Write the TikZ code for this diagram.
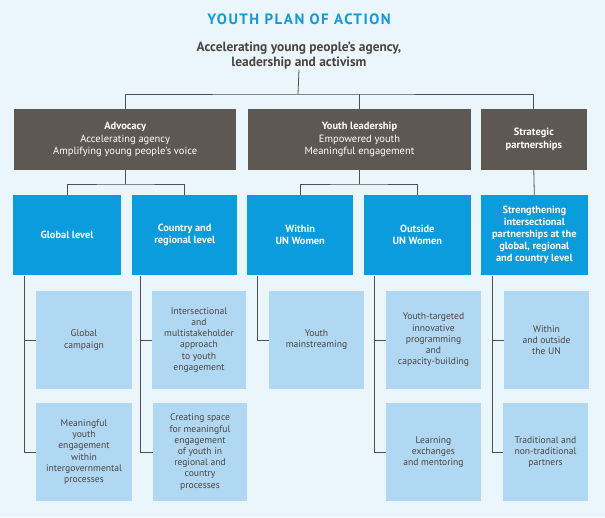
\documentclass[tikz,border=0pt]{standalone}
\usepackage{fontspec}
\setmainfont{PT Sans}
\newfontfamily\titlefont[LetterSpace=10]{PT Sans}
\definecolor{bgc}{HTML}{EBF5FC}
\definecolor{titlec}{HTML}{1798D6}
\definecolor{darkt}{HTML}{4A4440}
\definecolor{grayc}{HTML}{5E5852}
\definecolor{bluec}{HTML}{0A9CDD}
\definecolor{lightc}{HTML}{B1D8F2}
\definecolor{linec}{HTML}{4F4F4F}
\tikzset{
  gbox/.style={fill=grayc, text=white, align=center, inner sep=0pt, minimum height=61pt, font=\fontsize{10.5}{12.5}\selectfont},
  bbox/.style={fill=bluec, text=white, align=center, inner sep=0pt, minimum height=80.5pt, font=\fontsize{10.4}{12}\selectfont\bfseries},
  lbox/.style={fill=lightc, text=darkt, align=center, inner sep=0pt, minimum height=98pt, font=\fontsize{9.6}{11.2}\selectfont},
  conn/.style={draw=linec, line width=0.8pt}
}
\begin{document}
\begin{tikzpicture}[x=1pt,y=-1pt]
\fill[bgc] (0,0) rectangle (605,517);
\useasboundingbox (0,0) rectangle (605,517);
% titles
\node[text=titlec, font=\titlefont\fontsize{15}{18}\selectfont\bfseries] (title) at (299,19) {YOUTH PLAN OF ACTION};
\node[text=darkt, align=center, inner sep=0pt, font=\fontsize{13.4}{15.5}\selectfont\bfseries] (sub) at (299,55.5) {Accelerating young people’s agency,\\leadership and activism};
% level 1
\node[gbox, minimum width=222.5pt] (adv) at (125.2,139.5) {{\bfseries Advocacy}\\Accelerating agency\\Amplifying young people’s voice};
\node[gbox, minimum width=223pt] (yl) at (359.5,139.5) {{\bfseries Youth leadership}\\Empowered youth\\Meaningful engagement};
\node[gbox, minimum width=105.5pt, font=\fontsize{10.5}{12.5}\selectfont\bfseries] (str) at (533.8,139.5) {Strategic\\partnerships};
% level 2
\node[bbox, minimum width=108pt] (gl) at (67,235.2) {Global level};
\node[bbox, minimum width=105.5pt] (cr) at (184.7,235.2) {Country and\\regional level};
\node[bbox, minimum width=106.5pt] (wi) at (300.2,235.2) {Within\\UN Women};
\node[bbox, minimum width=106.7pt] (ou) at (417.3,235.2) {Outside\\UN Women};
\node[bbox, minimum width=106.6pt] (st) at (534.3,235.2) {Strengthening\\intersectional\\partnerships at the\\global, regional\\and country level};
% level 3 row 1
\node[lbox, minimum width=96pt] (g1) at (84,340) {Global\\campaign};
\node[lbox, minimum width=94pt] (c1) at (199,340) {Intersectional\\and\\multistakeholder\\approach\\to youth\\engagement};
\node[lbox, minimum width=95pt] (w1) at (316.5,340) {Youth\\mainstreaming};
\node[lbox, minimum width=95pt] (o1) at (433.5,340) {Youth-targeted\\innovative\\programming\\and\\capacity-building};
\node[lbox, minimum width=85pt] (s1) at (546.5,340) {Within\\and outside\\the UN};
% level 3 row 2
\node[lbox, minimum width=96pt] (g2) at (84,452) {Meaningful\\youth\\engagement\\within\\intergovernmental\\processes};
\node[lbox, minimum width=94pt] (c2) at (200,452) {Creating space\\for meaningful\\engagement\\of youth in\\regional and\\country\\processes};
\node[lbox, minimum width=95pt] (o2) at (433.5,452) {Learning\\exchanges\\and mentoring};
\node[lbox, minimum width=85pt] (s2) at (545.5,452) {Traditional and\\non-traditional\\partners};
% connectors top
\coordinate (bus) at (298,94);
\draw[conn] (sub.south) -- (bus);
\draw[conn] (adv.north) |- (bus) -| (str.north);
\draw[conn] (yl.north) -- (yl.north |- bus);
% connectors level 2
\coordinate (b1) at (125.2,184);
\coordinate (b2) at (359.5,184);
\draw[conn] (adv.south) -- (b1);
\draw[conn] (gl.north) |- (b1) -| (cr.north);
\draw[conn] (yl.south) -- (b2);
\draw[conn] (wi.north) |- (b2) -| (ou.north);
\draw[conn] (str.south) -- (st.north);
% connectors level 3
\draw[conn] ([xshift=11.7pt]gl.south west) |- (g2.west);
\draw[conn] ([xshift=11.7pt]gl.south west |- g1.west) -- (g1.west);
\draw[conn] ([xshift=8.8pt]cr.south west) |- (c2.west);
\draw[conn] ([xshift=8.8pt]cr.south west |- c1.west) -- (c1.west);
\draw[conn] ([xshift=10.3pt]wi.south west) |- (w1.west);
\draw[conn] ([xshift=11pt]ou.south west) |- (o2.west);
\draw[conn] ([xshift=11pt]ou.south west |- o1.west) -- (o1.west);
\draw[conn] ([xshift=11.3pt]st.south west) |- (s2.west);
\draw[conn] ([xshift=11.3pt]st.south west |- s1.west) -- (s1.west);
\end{tikzpicture}
\end{document}
